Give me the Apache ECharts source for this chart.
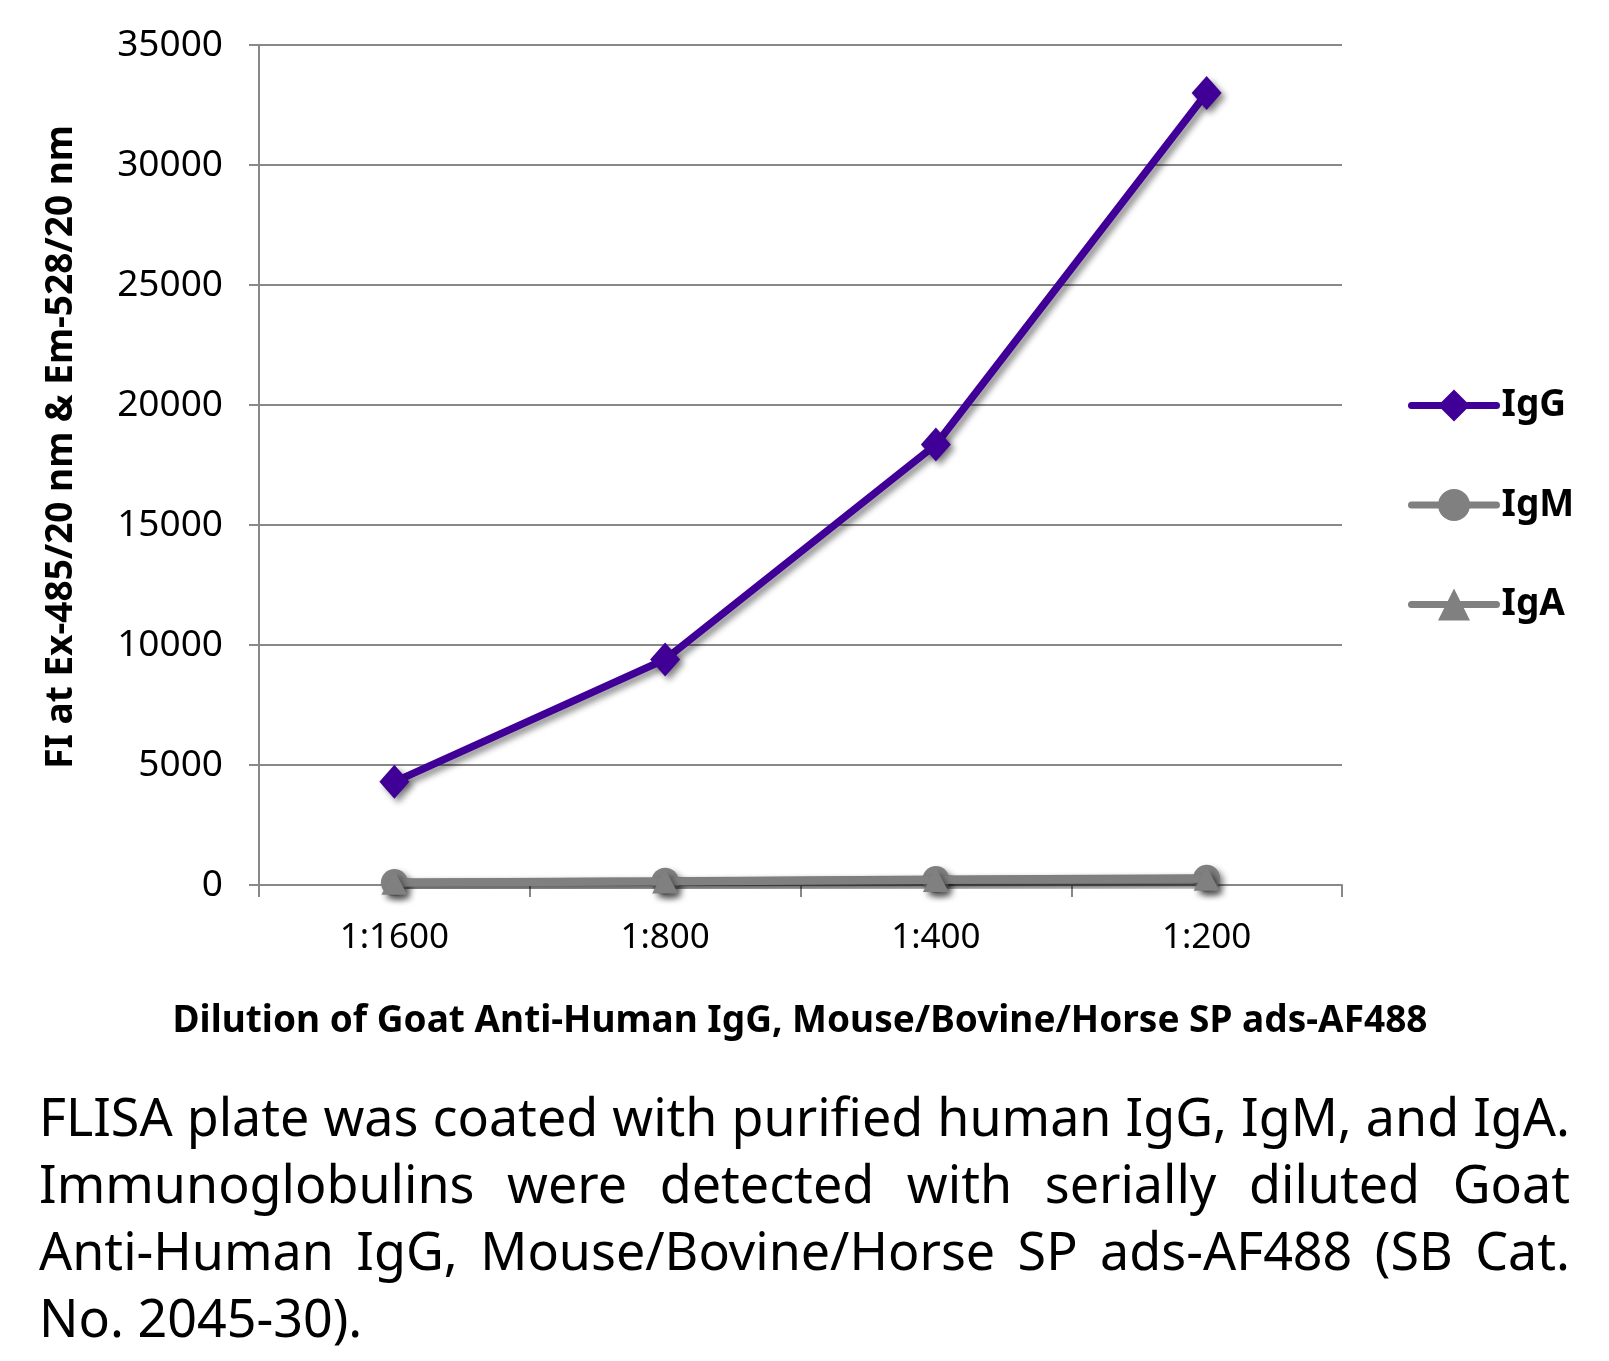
<!DOCTYPE html>
<html><head><meta charset="utf-8">
<script src="https://cdn.jsdelivr.net/npm/echarts@6/dist/echarts.min.js"></script>
<style>html,body{margin:0;padding:0;background:#fff}#c{width:1609px;height:1361px}</style>
</head><body><div id="c"></div>
<script>
const categories = ['1:1600', '1:800', '1:400', '1:200'];
const seriesNames = ['IgG', 'IgM', 'IgA'];
const igG = [4300, 9400, 18350, 33000];
const igM = [100, 160, 230, 280];
const igA = [90, 150, 210, 260];
const yMin = 0, yMax = 35000, yStep = 5000;
const yTitle = 'FI at Ex-485/20 nm & Em-528/20 nm';
const xTitle = 'Dilution of Goat Anti-Human IgG, Mouse/Bovine/Horse SP ads-AF488';
const captionLines = [
  'FLISA plate was coated with purified human IgG, IgM, and IgA.',
  'Immunoglobulins were detected with serially diluted Goat',
  'Anti-Human IgG, Mouse/Bovine/Horse SP ads-AF488 (SB Cat.',
  'No. 2045-30).'
];

const FONT = '"Noto Sans", "Open Sans", sans-serif';
const chart = echarts.init(document.getElementById('c'), null, {renderer: 'canvas'});

// caption layout (justified)
const ctx = document.createElement('canvas').getContext('2d');
const capLeft = 39, capRight = 1570, capW = capRight - capLeft;
let capFs = 100;
ctx.font = capFs + 'px ' + FONT;
const w1 = ctx.measureText(captionLines[0]).width;
capFs = Math.floor(capFs * (capW - 4) / w1);
ctx.font = capFs + 'px ' + FONT;
const capY0 = 1121, capDY = 67;
const capGraphics = [];
captionLines.forEach((line, li) => {
  const words = line.split(' ');
  const widths = words.map(w => ctx.measureText(w).width);
  const sum = widths.reduce((a, b) => a + b, 0);
  const justify = li < captionLines.length - 1;
  const gap = justify ? (capW - sum) / (words.length - 1) : ctx.measureText(' ').width;
  let x = capLeft;
  words.forEach((w, i) => {
    capGraphics.push({
      type: 'text', x: x, y: capY0 + li * capDY,
      style: {text: w, font: capFs + 'px ' + FONT, fill: '#000', textAlign: 'left', textVerticalAlign: 'middle'}
    });
    x += widths[i] + gap;
  });
});

const shadow = {shadowColor: 'rgba(0,0,0,0.45)', shadowBlur: 6, shadowOffsetX: 4, shadowOffsetY: 4};
const purple = '#400098', gray = '#808080';

chart.setOption({
  animation: false,
  backgroundColor: '#fff',
  grid: {left: 259, right: 267, top: 45, bottom: 476, containLabel: false},
  legend: {
    orient: 'vertical', left: 1408, top: 387, itemWidth: 85, itemHeight: 40, itemGap: 62.5,
    padding: 0,
    data: seriesNames,
    lineStyle: {width: 7, cap: 'round'},
    textStyle: {fontFamily: FONT, fontWeight: 'bold', fontSize: 37, color: '#000'}
  },
  xAxis: {
    type: 'category', data: categories, boundaryGap: true,
    axisLine: {lineStyle: {color: '#888', width: 2}},
    axisTick: {show: true, length: 12, alignWithLabel: false, lineStyle: {color: '#888', width: 2}},
    axisLabel: {fontFamily: FONT, fontSize: 35, color: '#000', margin: 36}
  },
  yAxis: {
    type: 'value', min: yMin, max: yMax, interval: yStep,
    axisLine: {show: true, lineStyle: {color: '#888', width: 2}},
    axisTick: {show: true, length: 10, lineStyle: {color: '#888', width: 2}},
    splitLine: {lineStyle: {color: '#888', width: 2}},
    axisLabel: {fontFamily: FONT, fontSize: 37, color: '#000', margin: 36, formatter: v => String(v)}
  },
  graphic: [
    {type: 'text', x: 61, y: 447, rotation: Math.PI / 2,
     style: {text: yTitle, font: 'bold 37px ' + FONT, fill: '#000', textAlign: 'center', textVerticalAlign: 'middle'}},
    {type: 'text', x: 800, y: 1021,
     style: {text: xTitle, font: 'bold 37px ' + FONT, fill: '#000', textAlign: 'center', textVerticalAlign: 'middle'}}
  ].concat(capGraphics),
  series: [
    {name: 'IgG', type: 'line', data: igG, color: purple, symbol: 'diamond', symbolSize: [30, 34],
     lineStyle: Object.assign({width: 7.5, color: purple, cap: 'round'}, shadow),
     itemStyle: Object.assign({color: purple}, shadow), z: 5},
    {name: 'IgM', type: 'line', data: igM, color: gray, symbol: 'circle', symbolSize: 27,
     lineStyle: Object.assign({width: 8, color: gray, cap: 'round'}, shadow),
     itemStyle: Object.assign({color: gray}, shadow), z: 3},
    {name: 'IgA', type: 'line', data: igA, color: gray, symbol: 'triangle', symbolSize: [26, 24],
     lineStyle: Object.assign({width: 8, color: gray, cap: 'round'}, shadow),
     itemStyle: Object.assign({color: gray}, shadow), z: 4}
  ]
});
</script></body></html>
